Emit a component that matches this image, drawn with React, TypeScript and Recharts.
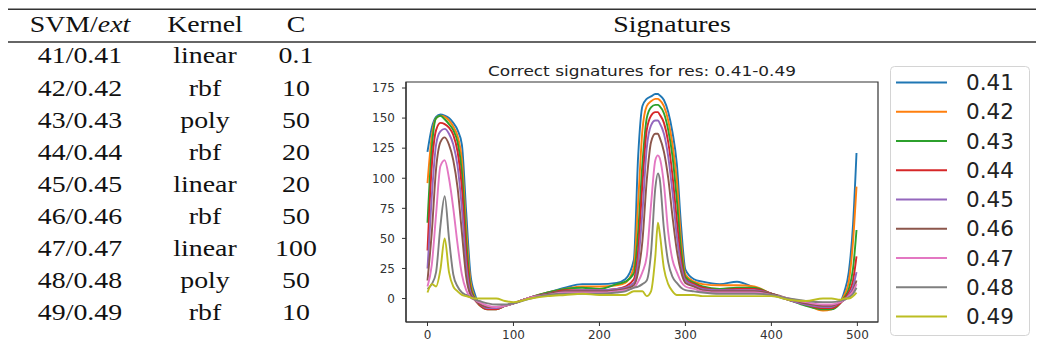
import React from 'react';
import { LineChart, Line, XAxis, YAxis, Legend, ReferenceArea } from 'recharts';

// Table columns
const svmIds = ['41/0.41', '42/0.42', '43/0.43', '44/0.44', '45/0.45', '46/0.46', '47/0.47', '48/0.48', '49/0.49'];
const kernels = ['linear', 'rbf', 'poly', 'rbf', 'linear', 'rbf', 'linear', 'poly', 'rbf'];
const cValues = ['0.1', '10', '50', '20', '20', '50', '100', '50', '10'];

// Signature series
const seriesLabels = ['0.41', '0.42', '0.43', '0.44', '0.45', '0.46', '0.47', '0.48', '0.49'];
const seriesColors = ['#1f77b4', '#ff7f0e', '#2ca02c', '#d62728', '#9467bd', '#8c564b', '#e377c2', '#7f7f7f', '#bcbd22'];

const sampleIndex = [
  0, 5, 10, 15, 20, 25, 30, 35, 40, 45, 50, 55, 60,
  70, 80, 90, 100, 120, 140, 160, 180, 200, 220, 230, 240,
  245, 250, 255, 260, 265, 268, 270, 275, 280, 285, 290, 295, 300,
  310, 320, 340, 360, 380, 400, 420, 440, 460, 470, 480, 485, 490, 495, 499,
];

const sig041 = [
  122, 142, 151, 153, 152, 150, 146, 140, 128, 72, 20, 4, -4,
  -8, -8, -6, -4, 1, 5, 9, 12, 12, 13, 16, 32,
  118, 160, 166, 168, 170, 170, 169, 165, 155, 138, 112, 60, 24,
  16, 14, 12, 14, 9, 3, -1, -5, -9, -8, -3, 6, 22, 62, 121,
];
const sig042 = [
  96, 135, 150, 152, 151, 148, 143, 135, 115, 58, 14, 1, -5,
  -8, -8, -6, -4, 1, 5, 8, 10, 10, 11, 13, 26,
  80, 140, 160, 164, 166, 166, 165, 160, 148, 128, 98, 48, 20,
  14, 12, 11, 11, 10, 4, -1, -5, -10, -9, -3, 3, 14, 48, 93,
];
const sig043 = [
  63, 125, 150, 152, 149, 145, 140, 130, 105, 48, 10, 0, -5,
  -9, -9, -6, -4, 1, 5, 8, 9, 8, 12, 14, 21,
  55, 112, 150, 159, 161, 161, 160, 154, 140, 118, 82, 40, 18,
  13, 10, 8, 9, 9, 4, -1, -6, -9, -9, -4, 1, 8, 25, 57,
];
const sig044 = [
  40, 110, 140, 146, 145, 142, 136, 122, 92, 38, 7, -1, -5,
  -9, -9, -6, -4, 1, 4, 7, 7, 7, 8, 10, 16,
  40, 95, 140, 152, 155, 155, 153, 146, 130, 102, 65, 32, 16,
  12, 9, 7, 8, 8, 4, -1, -5, -8, -8, -4, 0, 5, 15, 35,
];
const sig045 = [
  25, 85, 128, 139, 141, 137, 128, 110, 75, 28, 5, -1, -4,
  -8, -8, -6, -4, 1, 4, 6, 7, 7, 8, 9, 13,
  30, 72, 125, 144, 148, 148, 146, 137, 118, 88, 52, 27, 15,
  11, 8, 7, 7, 7, 4, -1, -5, -7, -7, -3, -1, 3, 10, 22,
];
const sig046 = [
  15, 55, 108, 130, 134, 128, 115, 92, 55, 18, 3, -1, -4,
  -7, -7, -6, -4, 1, 4, 6, 6, 6, 7, 8, 11,
  22, 48, 98, 130, 137, 137, 134, 122, 100, 68, 40, 22, 13,
  10, 7, 6, 6, 6, 4, 0, -4, -6, -6, -3, -1, 2, 7, 15,
];
const sig047 = [
  10, 28, 70, 110, 115, 100, 75, 45, 20, 7, 1, -1, -3,
  -6, -7, -6, -4, 1, 3, 5, 5, 5, 6, 7, 9,
  14, 22, 35, 78, 115, 119, 117, 95, 55, 32, 22, 14, 10,
  8, 6, 5, 5, 5, 3, 0, -3, -5, -5, -3, -1, 2, 6, 12,
];
const sig048 = [
  8, 12, 22, 60, 85, 50, 20, 10, 5, 3, 1, -1, -2,
  -4, -5, -5, -4, 0, 3, 4, 4, 4, 5, 6, 9,
  10, 12, 15, 38, 92, 104, 100, 58, 30, 18, 13, 9, 7,
  6, 5, 4, 4, 4, 3, 0, -2, -3, -3, -2, -1, 1, 4, 9,
];
const sig049 = [
  5, 12, 10, 24, 50, 22, 10, 6, 3, 2, 1, 0, 0,
  0, 0, -2, -3, 0, 2, 3, 4, 3, 3, 3, 6,
  6, 6, 2, 6, 35, 63, 55, 25, 12, 6, 3, 3, 3,
  3, 2, 2, 2, 2, 2, -1, -2, 0, 0, -1, 0, 0, 2, 5,
];
const seriesValues = [sig041, sig042, sig043, sig044, sig045, sig046, sig047, sig048, sig049];

const xTicks = [0, 100, 200, 300, 400, 500];
const yTicks = [0, 25, 50, 75, 100, 125, 150, 175];
const xDomain: [number, number] = [-25, 524];
const yDomain: [number, number] = [-19.5, 180];

const chartData = sampleIndex.map((x, i) => {
  const row: Record<string, number> = { x };
  seriesLabels.forEach((label, s) => {
    row[label] = seriesValues[s][i];
  });
  return row;
});

const SERIF = '"Liberation Serif", "Times New Roman", serif';
const SANS = '"DejaVu Sans", sans-serif';
const SX = 1.16; // horizontal stretch for the table lettering

const colX = [80, 205, 296];
const headerY = 32.5;
const rowY = (i: number) => 63.5 + 32.1 * i;

function LegendBox() {
  return (
    <svg width={141} height={271} style={{ display: 'block' }}>
      <rect x={0.5} y={0.5} width={139} height={269} rx={4} ry={4} fill="#ffffff" stroke="#d4d4d4" strokeWidth={1} />
      {seriesLabels.map((label, i) => {
        const cy = 16.5 + 29.25 * i;
        return (
          <g key={label}>
            <line x1={6} x2={57} y1={cy} y2={cy} stroke={seriesColors[i]} strokeWidth={2} />
            <text x={76} y={cy + 7.5} fontFamily={SANS} fontSize={21.5} fill="#222">
              {label}
            </text>
          </g>
        );
      })}
    </svg>
  );
}

export default function App() {
  return (
    <div style={{ position: 'relative', width: 1038, height: 358, background: '#fff', overflow: 'hidden' }}>
      <style>{'body{margin:0;}'}</style>
      <svg width={1038} height={358} style={{ position: 'absolute', left: 0, top: 0 }}>
        <line x1={8} x2={1036} y1={9.3} y2={9.3} stroke="#333" strokeWidth={1.6} />
        <line x1={8} x2={1036} y1={42} y2={42} stroke="#333" strokeWidth={1.3} />
        <g transform={`scale(${SX},1)`} fontFamily={SERIF} fontSize={24} fill="#111">
          <text x={colX[0] / SX} y={headerY} textAnchor="middle">
            SVM/<tspan fontStyle="italic">ext</tspan>
          </text>
          <text x={colX[1] / SX} y={headerY} textAnchor="middle">Kernel</text>
          <text x={colX[2] / SX} y={headerY} textAnchor="middle">C</text>
          <text x={672 / SX} y={headerY} textAnchor="middle">Signatures</text>
          {svmIds.map((id, i) => (
            <g key={id}>
              <text x={colX[0] / SX} y={rowY(i)} textAnchor="middle">{id}</text>
              <text x={colX[1] / SX} y={rowY(i)} textAnchor="middle">{kernels[i]}</text>
              <text x={colX[2] / SX} y={rowY(i)} textAnchor="middle">{cValues[i]}</text>
            </g>
          ))}
        </g>
        <text
          x={642}
          y={76}
          textAnchor="middle"
          fontFamily={SANS}
          fontSize={14.5}
          textLength={308}
          lengthAdjust="spacingAndGlyphs"
          fill="#222"
        >
          Correct signatures for res: 0.41-0.49
        </text>
      </svg>
      <div style={{ position: 'absolute', left: 340, top: 55 }}>
        <LineChart width={698} height={300} data={chartData} margin={{ top: 27, right: 160, bottom: 3, left: 6 }}>
          <XAxis
            dataKey="x"
            type="number"
            domain={xDomain}
            ticks={xTicks}
            allowDataOverflow
            height={30}
            tickSize={4}
            tickMargin={4}
            stroke="#333"
            axisLine={{ stroke: '#333', strokeWidth: 1.2 }}
            tickLine={{ stroke: '#333' }}
            tick={{ fontSize: 12, fill: '#333', fontFamily: SANS }}
          />
          <YAxis
            type="number"
            domain={yDomain}
            ticks={yTicks}
            allowDataOverflow
            width={60}
            tickSize={4}
            tickMargin={7}
            axisLine={{ stroke: '#333', strokeWidth: 1.2 }}
            tickLine={{ stroke: '#333' }}
            tick={{ fontSize: 12, fill: '#333', fontFamily: SANS }}
          />
          {seriesLabels.map((label, i) => (
            <Line
              key={label}
              type="monotone"
              dataKey={label}
              stroke={seriesColors[i]}
              strokeWidth={1.9}
              dot={false}
              isAnimationActive={false}
            />
          ))}
          {/* plot frame along the full data extent */}
          <ReferenceArea
            x1={xDomain[0]}
            x2={xDomain[1]}
            y1={yDomain[0]}
            y2={yDomain[1]}
            ifOverflow="visible"
            fill="none"
            fillOpacity={0}
            stroke="#333"
            strokeWidth={1.2}
          />
          <Legend
            layout="horizontal"
            verticalAlign="middle"
            align="center"
            content={() => <LegendBox />}
            wrapperStyle={{ left: 550, top: 11, width: 141, height: 271 }}
          />
        </LineChart>
      </div>
    </div>
  );
}
